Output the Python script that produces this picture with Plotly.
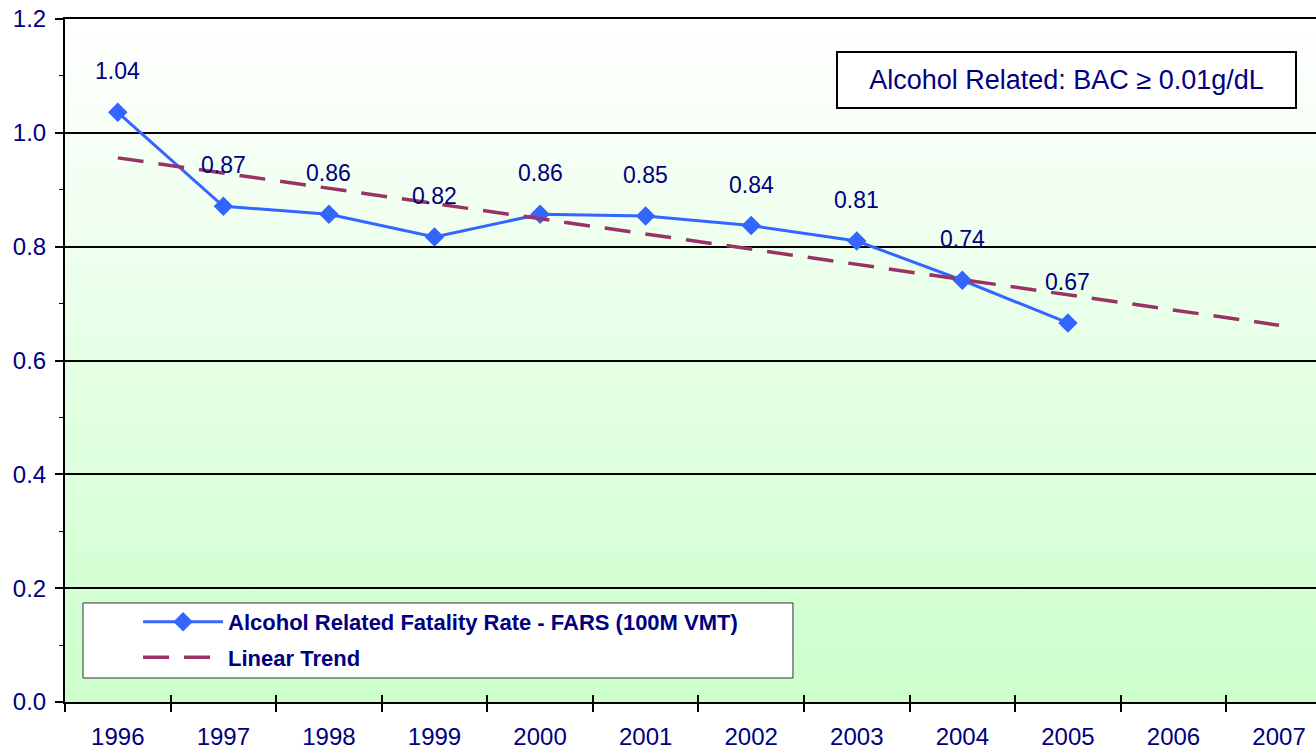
import base64
import plotly.graph_objects as go

# ---- data ----
years = [1996, 1997, 1998, 1999, 2000, 2001, 2002, 2003, 2004, 2005]
rate = [1.036, 0.871, 0.857, 0.817, 0.857, 0.854, 0.837, 0.810, 0.741, 0.666]
rate_labels = ["1.04", "0.87", "0.86", "0.82", "0.86", "0.85", "0.84", "0.81", "0.74", "0.67"]
axis_years = [1996, 1997, 1998, 1999, 2000, 2001, 2002, 2003, 2004, 2005, 2006, 2007]
trend_years = [1996, 2007]
trend_values = [0.956, 0.662]
y_ticks = [0.0, 0.2, 0.4, 0.6, 0.8, 1.0, 1.2]

NAVY = "#000080"
FONT = "Liberation Sans, Arial, sans-serif"

boundaries = [y - 0.5 for y in axis_years]

svg = ('<svg xmlns="http://www.w3.org/2000/svg" width="10" height="100" preserveAspectRatio="none">'
       '<defs><linearGradient id="g" x1="0" y1="0" x2="0" y2="1">'
       '<stop offset="0" stop-color="#FFFFFF"/><stop offset="1" stop-color="#CCFFCC"/>'
       '</linearGradient></defs><rect width="10" height="100" fill="url(#g)"/></svg>')
bg_uri = "data:image/svg+xml;base64," + base64.b64encode(svg.encode()).decode()

fig = go.Figure()
fig.add_trace(go.Scatter(
    x=years, y=rate, mode="lines+markers",
    name="Alcohol Related Fatality Rate - FARS (100M VMT)",
    line=dict(color="#3366FF", width=3),
    marker=dict(symbol="diamond", size=15, color="#3366FF"),
    legendgroup="a",
))
fig.add_trace(go.Scatter(
    x=trend_years, y=trend_values, mode="lines", name="Linear Trend",
    line=dict(color="#993366", width=3.5, dash="26px,15px"),
    xaxis="x2", legendgroup="b",
))

for xv, yv, t in zip(years, rate, rate_labels):
    fig.add_annotation(x=xv, y=yv, text=t, showarrow=False, yshift=41,
                       font=dict(family=FONT, size=23, color=NAVY))

fig.add_annotation(xref="paper", yref="paper", x=0.8006, y=0.9107,
                   xanchor="center", yanchor="middle",
                   text="Alcohol Related: BAC ≥ 0.01g/dL", showarrow=False,
                   width=457, height=54, borderpad=0, bgcolor="white",
                   bordercolor="black", borderwidth=2,
                   font=dict(family=FONT, size=27, color=NAVY))

fig.add_shape(type="rect", xref="paper", yref="paper",
              x0=0.0144, x1=0.5819, y0=0.0351, y1=0.145,
              line=dict(color="#333333", width=1), fillcolor="white", layer="above")

fig.add_layout_image(source=bg_uri, xref="paper", yref="paper", x=0, y=1,
                     sizex=1, sizey=1, sizing="stretch", layer="below")

fig.update_layout(
    width=1316, height=751,
    margin=dict(l=65, r=0, t=19, b=49),
    paper_bgcolor="white", plot_bgcolor="rgba(0,0,0,0)",
    font=dict(family=FONT, size=24, color=NAVY),
    xaxis=dict(
        range=[1995.5, 2007.35], tickvals=axis_years, ticktext=[str(y) for y in axis_years],
        ticks="", showgrid=False, zeroline=False, automargin=False,
        showline=True, linecolor="black", linewidth=2, mirror=True,
        ticklabelstandoff=12,
        tickfont=dict(family=FONT, size=24, color=NAVY),
        minor=dict(tickvals=boundaries, ticks="outside", ticklen=8, tickcolor="black",
                   tickwidth=1.5, showgrid=False),
    ),
    xaxis2=dict(
        overlaying="x", matches="x", anchor="y", side="bottom",
        tickvals=boundaries, ticks="inside", ticklen=7, tickcolor="black", tickwidth=1.5,
        showticklabels=False, showgrid=False, zeroline=False, showline=False,
    ),
    yaxis=dict(
        range=[0, 1.2], tickvals=y_ticks, tickformat=".1f",
        ticks="outside", ticklen=8, tickcolor="black", tickwidth=1.5,
        showgrid=True, gridcolor="black", gridwidth=1.5, zeroline=False, automargin=False,
        showline=True, linecolor="black", linewidth=2,
        ticklabelstandoff=4,
        tickfont=dict(family=FONT, size=24, color=NAVY),
        minor=dict(dtick=0.1, tick0=0, ticks="outside", ticklen=4, tickcolor="black",
                   tickwidth=1, showgrid=False),
    ),
    showlegend=True,
    legend=dict(x=0.0584, y=0.148, xanchor="left", yanchor="top",
                bgcolor="rgba(0,0,0,0)", borderwidth=0, itemwidth=80,
                tracegroupgap=4,
                font=dict(family=FONT, size=22, color=NAVY, weight="bold")),
)

fig.write_html("out.html", config={"displayModeBar": False},
               post_script="document.body.style.margin='0';")
